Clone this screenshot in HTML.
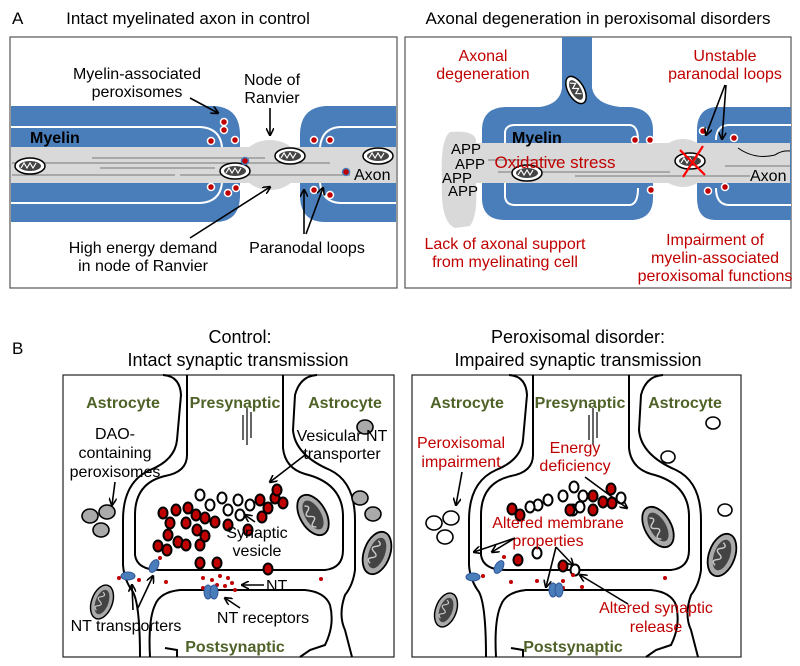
<!DOCTYPE html>
<html><head><meta charset="utf-8"><style>
html,body{margin:0;padding:0;background:#fff}
svg{display:block}
text{font-family:"Liberation Sans",sans-serif}
.r{fill:#c00000}.g{fill:#4f6228;font-weight:bold}.c{text-anchor:middle}
</style></head><body>
<svg width="800" height="666" viewBox="0 0 800 666" xmlns="http://www.w3.org/2000/svg" font-size="16">
<defs>
<marker id="ah" markerWidth="8" markerHeight="8" refX="7" refY="4" orient="auto" markerUnits="userSpaceOnUse"><path d="M0,0 L8,4 L0,8" fill="none" stroke="#000" stroke-width="1.6"/></marker>
<g id="mito"><ellipse rx="15" ry="8" fill="#fff" stroke="#000" stroke-width="1.5"/><ellipse rx="11" ry="5" fill="#444"/><path d="M-9,2 l3,-5 l3,5 l3,-5 l3,5 l3,-5" stroke="#fff" fill="none" stroke-width="1.2"/></g>
<g id="bm"><ellipse rx="13" ry="22" fill="#aaa" stroke="#000" stroke-width="1.8"/><ellipse rx="8" ry="16" fill="#444"/><path d="M-3,-12 q6,3 0,6 q-6,3 0,6 q6,3 0,6 q-6,3 0,6" stroke="#ccc" fill="none" stroke-width="1.4"/></g>
<g id="v"><ellipse rx="4.5" ry="5.5" fill="#c00000" stroke="#000" stroke-width="2"/></g>
<g id="w"><ellipse rx="4.5" ry="5.5" fill="#fff" stroke="#000" stroke-width="2"/></g>
</defs>

<!-- Panel A -->
<text x="12" y="24" font-size="17">A</text>
<text x="188" y="24" class="c" font-size="17">Intact myelinated axon in control</text>
<text x="598" y="24" class="c" font-size="17">Axonal degeneration in peroxisomal disorders</text>
<rect x="10" y="37" width="387" height="251" fill="#fff" stroke="#555" stroke-width="1.2"/>
<rect x="405" y="37" width="386" height="251" fill="#fff" stroke="#555" stroke-width="1.2"/>

<!-- left A -->
<path d="M11,106 L215,106 Q240,108 240,135 L240,195 Q240,222 215,222 L11,222 Z" fill="#4a7ebb"/>
<path d="M11,127 L200,127 Q220,128 222,147" stroke="#fff" stroke-width="2" fill="none"/>
<path d="M11,203 L200,203 Q220,202 222,183" stroke="#fff" stroke-width="2" fill="none"/>
<path d="M396,106 L325,106 Q300,108 300,135 L300,195 Q300,222 325,222 L396,222 Z" fill="#4a7ebb"/>
<path d="M396,127 L340,127 Q322,128 320,147" stroke="#fff" stroke-width="2" fill="none"/>
<path d="M396,203 L340,203 Q322,202 320,183" stroke="#fff" stroke-width="2" fill="none"/>
<rect x="11" y="147" width="385" height="36" fill="#d9d9d9"/>
<ellipse cx="270" cy="165" rx="30" ry="25" fill="#d9d9d9"/>
<g stroke="#777" stroke-width="1"><line x1="92" y1="158" x2="265" y2="158"/><line x1="12" y1="163" x2="330" y2="163"/><line x1="100" y1="168" x2="215" y2="168"/><line x1="12" y1="175" x2="175" y2="175"/><line x1="180" y1="175" x2="350" y2="175"/></g>
<use href="#mito" x="30" y="166"/><use href="#mito" x="235" y="171"/><use href="#mito" x="290" y="156"/><use href="#mito" x="378" y="156"/>
<g fill="#c00000" stroke="#fff" stroke-width="1.5"><circle cx="224" cy="122" r="3.5"/><circle cx="224" cy="130" r="3.5"/><circle cx="211" cy="141" r="3.5"/><circle cx="235" cy="140" r="3.5"/><circle cx="211" cy="187" r="3.5"/><circle cx="228" cy="193" r="3.5"/><circle cx="236" cy="188" r="3.5"/><circle cx="314" cy="140" r="3.5"/><circle cx="330" cy="140" r="3.5"/><circle cx="314" cy="190" r="3.5"/><circle cx="330" cy="195" r="3.5"/><circle cx="245" cy="161" r="3.5" stroke="#4a7ebb"/><circle cx="346" cy="172" r="3.5" stroke="#4a7ebb"/></g>
<text x="30" y="143" font-weight="bold" font-size="16">Myelin</text>
<text x="354" y="180" font-size="16">Axon</text>
<text x="137" y="79" class="c">Myelin-associated</text><text x="137" y="97" class="c">peroxisomes</text>
<text x="272" y="85" class="c">Node of</text><text x="272" y="103" class="c">Ranvier</text>
<text x="143" y="253" class="c">High energy demand</text><text x="143" y="271" class="c">in node of Ranvier</text>
<text x="307" y="253" class="c">Paranodal loops</text>
<g stroke="#000" stroke-width="1.6" fill="none" marker-end="url(#ah)">
<line x1="190" y1="98" x2="218" y2="113"/><line x1="270" y1="108" x2="270" y2="135"/><line x1="190" y1="238" x2="270" y2="187"/><line x1="304" y1="234" x2="304" y2="190"/><line x1="306" y1="234" x2="323" y2="188"/></g>

<!-- right A -->
<path d="M562,37 L592,37 L592,88 Q595,104 620,107 L630,107 Q653,109 653,130 L653,198 Q653,220 630,220 L505,220 Q482,220 482,198 L482,130 Q482,108 505,107 L540,107 Q560,104 562,88 Z" fill="#4a7ebb"/>
<path d="M505,147 L505,132 Q506,125 515,125 L630,125 Q638,126 638,140" stroke="#fff" stroke-width="2" fill="none"/>
<path d="M505,183 L505,197 Q506,205 515,205 L630,205 Q638,204 638,188" stroke="#fff" stroke-width="2" fill="none"/>
<path d="M791,107 L715,107 Q697,109 697,130 L697,198 Q697,220 715,220 L791,220 Z" fill="#4a7ebb"/>
<path d="M791,125 L728,125 Q716,126 716,140" stroke="#fff" stroke-width="2" fill="none"/>
<path d="M791,205 L728,205 Q716,204 716,188" stroke="#fff" stroke-width="2" fill="none"/>
<path d="M450,132 Q440,140 442,180 Q440,222 455,228 L470,226 Q478,215 476,185 L476,140 Q474,130 450,132 Z" fill="#d9d9d9"/>
<rect x="470" y="143" width="320" height="40" fill="#d9d9d9"/>
<ellipse cx="683" cy="163" rx="26" ry="24" fill="#d9d9d9"/>
<path d="M738,148 Q755,160 775,155 Q782,150 790,151" stroke="#000" fill="none" stroke-width="1"/>
<g stroke="#777" stroke-width="1"><line x1="488" y1="160" x2="560" y2="160"/><line x1="498" y1="172" x2="670" y2="172"/><line x1="575" y1="176" x2="750" y2="176"/><line x1="725" y1="166" x2="790" y2="166"/></g>
<use href="#mito" x="527" y="173"/><use href="#mito" x="690" y="161"/>
<g transform="translate(576,90) rotate(60)"><use href="#mito"/></g>
<g stroke="#ff0000" stroke-width="2.2"><line x1="680" y1="150" x2="705" y2="175"/><line x1="703" y1="146" x2="683" y2="177"/></g>
<g fill="#c00000" stroke="#fff" stroke-width="1.5"><circle cx="635" cy="140" r="3.5"/><circle cx="650" cy="140" r="3.5"/><circle cx="651" cy="190" r="3.5"/><circle cx="703" cy="131" r="3.5"/><circle cx="734" cy="138" r="3.5"/><circle cx="708" cy="191" r="3.5"/><circle cx="725" cy="187" r="3.5"/></g>
<text x="512" y="143" font-weight="bold" font-size="16">Myelin</text>
<g font-size="15"><text x="451" y="154">APP</text><text x="455" y="169">APP</text><text x="442" y="183">APP</text><text x="448" y="196">APP</text></g>
<text x="555" y="168" class="c r" font-size="17">Oxidative stress</text>
<text x="750" y="181" font-size="16">Axon</text>
<text x="483" y="61" class="c r">Axonal</text><text x="483" y="79" class="c r">degeneration</text>
<text x="725" y="61" class="c r">Unstable</text><text x="725" y="79" class="c r">paranodal loops</text>
<text x="505" y="249" class="c r">Lack of axonal support</text><text x="505" y="267" class="c r">from myelinating cell</text>
<text x="715" y="245" class="c r">Impairment of</text><text x="715" y="263" class="c r">myelin-associated</text><text x="715" y="281" class="c r">peroxisomal functions</text>
<g stroke="#000" stroke-width="1.6" fill="none" marker-end="url(#ah)"><line x1="725" y1="85" x2="706" y2="135"/><line x1="726" y1="85" x2="722" y2="139"/></g>

<!-- Panel B -->
<text x="12" y="354" font-size="17">B</text>
<text x="240" y="343" class="c" font-size="18">Control:</text>
<text x="238" y="366" class="c" font-size="18">Intact synaptic transmission</text>
<text x="578" y="343" class="c" font-size="18">Peroxisomal disorder:</text>
<text x="578" y="366" class="c" font-size="18">Impaired synaptic transmission</text>
<rect x="63" y="375" width="331" height="282" fill="#fff" stroke="#222" stroke-width="1.2"/>
<rect x="412" y="375" width="329" height="282" fill="#fff" stroke="#222" stroke-width="1.2"/>

<g id="syn" stroke="#000" stroke-width="2" fill="none">
<path d="M187,375 L187,455 Q187,472 165,476 Q135,483 135,515 L135,555 Q137,570 160,570 L325,570 Q343,568 343,550 L343,515 Q342,483 305,474 Q285,468 283,448 L283,375"/>
<path d="M163,375 Q180,376 181,395 L177,440 Q175,460 150,470 Q123,482 123,520 L123,565 Q124,580 133,592 Q140,605 140,657"/>
<path d="M317,375 Q300,376 295,395 L293,430 Q295,455 330,470 Q355,482 355,520 L355,570 Q353,585 345,595 Q338,615 345,630 L352,657"/>
<path d="M150,657 Q148,620 155,605 Q160,592 180,590 L305,590 Q325,592 330,605 Q335,625 325,645 L310,650 L300,657"/>
<path d="M177,657 L177,650 L165,648"/>
<g stroke-width="1.2"><line x1="243" y1="415" x2="243" y2="440"/><line x1="247" y1="408" x2="247" y2="445"/><line x1="251" y1="412" x2="251" y2="438"/></g>
</g>
<use href="#syn" x="346"/>

<!-- left B contents -->
<g fill="#aaa" stroke="#000" stroke-width="1.6"><ellipse cx="90" cy="516" rx="8" ry="7"/><ellipse cx="107" cy="512" rx="8" ry="7"/><ellipse cx="101" cy="530" rx="8" ry="7"/><ellipse cx="365" cy="427" rx="8" ry="7"/><ellipse cx="360" cy="498" rx="8" ry="7"/><ellipse cx="373" cy="514" rx="8" ry="7"/></g>
<g transform="translate(313,515) rotate(-30)"><use href="#bm"/></g>
<g transform="translate(377,553) rotate(20)"><use href="#bm"/></g>
<g transform="translate(102,602) rotate(20)"><use href="#bm" transform="scale(0.8)"/></g>
<g>
<use href="#w" x="200" y="495"/><use href="#w" x="210" y="505"/><use href="#w" x="222" y="498"/><use href="#w" x="228" y="510"/><use href="#w" x="238" y="500"/><use href="#w" x="240" y="515"/><use href="#w" x="250" y="505"/>
<use href="#v" x="163" y="513"/><use href="#v" x="176" y="510"/><use href="#v" x="188" y="508"/><use href="#v" x="205" y="518"/><use href="#v" x="170" y="523"/><use href="#v" x="186" y="523"/><use href="#v" x="196" y="515"/><use href="#v" x="215" y="522"/><use href="#v" x="228" y="525"/><use href="#v" x="248" y="530"/><use href="#v" x="260" y="500"/><use href="#v" x="268" y="508"/><use href="#v" x="275" y="498"/><use href="#v" x="283" y="503"/><use href="#v" x="277" y="490"/><use href="#v" x="262" y="517"/><use href="#v" x="168" y="535"/><use href="#v" x="167" y="550"/><use href="#v" x="178" y="542"/><use href="#v" x="186" y="545"/><use href="#v" x="158" y="546"/><use href="#v" x="197" y="530"/><use href="#v" x="200" y="545"/><use href="#v" x="205" y="536"/><use href="#v" x="200" y="563"/><use href="#v" x="217" y="563"/><use href="#v" x="268" y="569"/>
</g>
<g fill="#c00000"><circle cx="160" cy="558" r="2"/><circle cx="119" cy="578" r="2"/><circle cx="139" cy="580" r="2"/><circle cx="166" cy="582" r="2"/><circle cx="203" cy="578" r="2"/><circle cx="212" cy="580" r="2"/><circle cx="220" cy="576" r="2"/><circle cx="228" cy="578" r="2"/><circle cx="217" cy="585" r="2"/><circle cx="225" cy="586" r="2"/><circle cx="232" cy="583" r="2"/><circle cx="235" cy="590" r="2"/><circle cx="203" cy="588" r="2"/><circle cx="321" cy="579" r="2"/></g>
<g fill="#4a7ebb" stroke="#2f5597"><ellipse cx="128" cy="576" rx="7" ry="4"/><ellipse cx="154" cy="566" rx="4" ry="7" transform="rotate(30 154 566)"/><ellipse cx="208" cy="592" rx="4" ry="7"/><ellipse cx="214" cy="592" rx="4" ry="7"/></g>
<text x="123" y="408" class="c g">Astrocyte</text><text x="235" y="408" class="c g">Presynaptic</text><text x="345" y="408" class="c g">Astrocyte</text>
<text x="115" y="439" class="c">DAO-</text><text x="115" y="458" class="c">containing</text><text x="115" y="477" class="c">peroxisomes</text>
<text x="342" y="441" class="c">Vesicular NT</text><text x="342" y="459" class="c">transporter</text>
<text x="257" y="538" class="c">Synaptic</text><text x="257" y="556" class="c">vesicle</text>
<text x="266" y="591">NT</text>
<text x="263" y="623" class="c">NT receptors</text>
<text x="126" y="631" class="c">NT transporters</text>
<text x="235" y="652" class="c g">Postsynaptic</text>
<g stroke="#000" stroke-width="1.6" fill="none" marker-end="url(#ah)">
<line x1="115" y1="482" x2="112" y2="505"/><line x1="305" y1="455" x2="270" y2="482"/><line x1="255" y1="522" x2="245" y2="515"/><line x1="264" y1="585" x2="242" y2="585"/><line x1="240" y1="608" x2="225" y2="598"/><line x1="133" y1="610" x2="132" y2="585"/><line x1="137" y1="610" x2="153" y2="576"/></g>

<!-- right B contents -->
<g fill="#fff" stroke="#000" stroke-width="1.6"><ellipse cx="434" cy="523" rx="8" ry="7"/><ellipse cx="451" cy="518" rx="8" ry="7"/><ellipse cx="445" cy="537" rx="8" ry="7"/><ellipse cx="713" cy="423" rx="7" ry="6"/><ellipse cx="668" cy="457" rx="7" ry="6"/><ellipse cx="725" cy="510" rx="7" ry="6"/></g>
<g transform="translate(658,527) rotate(-30)"><use href="#bm"/></g>
<g transform="translate(722,555) rotate(20)"><use href="#bm"/></g>
<g transform="translate(446,610) rotate(20)"><use href="#bm" transform="scale(0.8)"/></g>
<g>
<use href="#w" x="574" y="487"/><use href="#w" x="563" y="496"/><use href="#w" x="583" y="496"/><use href="#w" x="548" y="500"/><use href="#w" x="573" y="510"/><use href="#w" x="538" y="505"/><use href="#w" x="580" y="507"/><use href="#w" x="530" y="507"/><use href="#w" x="621" y="498"/><use href="#w" x="537" y="553"/><use href="#w" x="575" y="570"/>
<use href="#v" x="593" y="496"/><use href="#v" x="611" y="489"/><use href="#v" x="603" y="502"/><use href="#v" x="612" y="503"/><use href="#v" x="512" y="509"/><use href="#v" x="520" y="515"/><use href="#v" x="570" y="510"/><use href="#v" x="593" y="510"/><use href="#v" x="518" y="560"/><use href="#v" x="563" y="566"/></g>
<g fill="#c00000"><circle cx="504" cy="557" r="2"/><circle cx="483" cy="576" r="2"/><circle cx="511" cy="582" r="2"/><circle cx="537" cy="581" r="2"/><circle cx="563" cy="581" r="2"/><circle cx="573" cy="575" r="2"/><circle cx="563" cy="588" r="2"/><circle cx="582" cy="587" r="2"/><circle cx="665" cy="578" r="2"/></g>
<g fill="#4a7ebb" stroke="#2f5597"><ellipse cx="473" cy="577" rx="7" ry="4"/><ellipse cx="499" cy="567" rx="4" ry="7" transform="rotate(30 499 567)"/><ellipse cx="553" cy="590" rx="4" ry="7"/><ellipse cx="559" cy="590" rx="4" ry="7"/></g>
<text x="467" y="408" class="c g">Astrocyte</text><text x="580" y="408" class="c g">Presynaptic</text><text x="685" y="408" class="c g">Astrocyte</text>
<text x="461" y="448" class="c r">Peroxisomal</text><text x="461" y="467" class="c r">impairment</text>
<text x="575" y="453" class="c r">Energy</text><text x="575" y="471" class="c r">deficiency</text>
<text x="558" y="528" class="c r">Altered membrane</text><text x="548" y="546" class="c r">properties</text>
<text x="656" y="613" class="c r">Altered synaptic</text><text x="656" y="632" class="c r">release</text>
<text x="573" y="652" class="c g">Postsynaptic</text>
<g stroke="#000" stroke-width="1.6" fill="none" marker-end="url(#ah)">
<line x1="462" y1="472" x2="456" y2="505"/><line x1="585" y1="477" x2="627" y2="508"/>
<line x1="515" y1="538" x2="474" y2="552"/><line x1="515" y1="538" x2="492" y2="552"/>
<line x1="556" y1="547" x2="546" y2="587"/><line x1="556" y1="547" x2="573" y2="565"/>
<line x1="628" y1="604" x2="580" y2="575"/></g>
</svg>
</body></html>
